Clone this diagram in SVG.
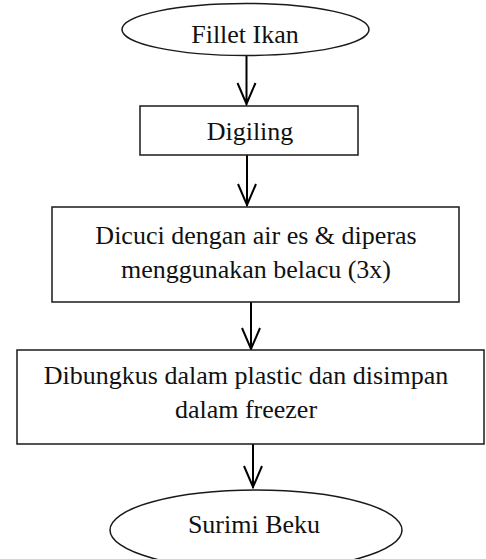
<svg xmlns="http://www.w3.org/2000/svg" width="486" height="559" viewBox="0 0 486 559">
<style>
.shape{fill:#fff;stroke:#1a1a1a;stroke-width:1.5}
.t{font-family:"Liberation Serif","Times New Roman",serif;font-size:26px;fill:#111;text-anchor:middle}
.c{stroke:#000;stroke-width:2;fill:none}
</style>
<g id="connectors">
<path class="c" d="M246.5 56 V105 M237.5 83 L246.5 104 L255.5 83"/>
<path class="c" d="M247 155 V206 M238 184 L247 205 L256 184"/>
<path class="c" d="M251 302 V349 M242 328 L251 349 L260 328"/>
<path class="c" d="M253 444 V488 M244 466 L253 487 L262 466"/>
</g>
<g id="n1"><ellipse class="shape" cx="245.5" cy="29.5" rx="123.5" ry="26"/><text class="t" x="245" y="43">Fillet Ikan</text></g>
<g id="n2"><rect class="shape" x="140" y="106" width="218" height="49"/><text class="t" x="250" y="140">Digiling</text></g>
<g id="n3"><rect class="shape" x="52" y="207" width="407" height="95"/><text class="t" x="256" y="244">Dicuci dengan air es &amp; diperas</text><text class="t" x="256" y="278">menggunakan belacu (3x)</text></g>
<g id="n4"><rect class="shape" x="17" y="350" width="467" height="94"/><text class="t" x="246" y="384">Dibungkus dalam plastic dan disimpan</text><text class="t" x="246" y="418">dalam freezer</text></g>
<g id="n5"><ellipse class="shape" cx="256" cy="530" rx="146" ry="40"/><text class="t" x="254" y="533">Surimi Beku</text></g>
</svg>
